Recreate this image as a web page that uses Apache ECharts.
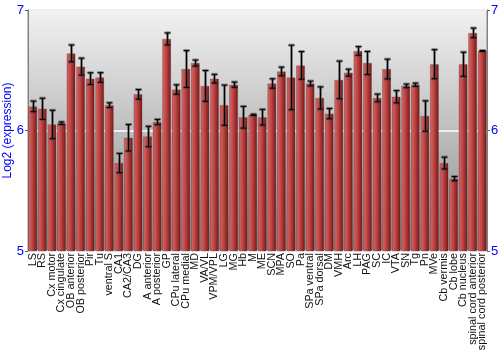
<!DOCTYPE html>
<html>
<head>
<meta charset="utf-8">
<script src="https://cdn.jsdelivr.net/npm/echarts@6/dist/echarts.min.js"></script>
<style>html,body{margin:0;padding:0;background:#fff}#c{width:500px;height:350px}</style>
</head>
<body>
<div id="c"></div>
<script>
const categories = ["LS","RS","Cx motor","Cx cingulate","OB anterior","OB posterior","Pir","Tu","ventral S","CA1","CA2/CA3","DG","A anterior","A posterior","GP","CPu lateral","CPu medial","MD","VA/VL","VPM/VPL","LG","MG","Hb","M","ME","SCN","MPA","SO","Pa","SPa ventral","SPa dorsal","DM","VMH","Arc","LH","PAG","SC","IC","VTA","SN","Tg","Pn","MVe","Cb vermis","Cb lobe","Cb nucleus","spinal cord anterior","spinal cord posterior"];
const values = [6.20,6.18,6.05,6.06,6.64,6.53,6.43,6.44,6.21,5.73,5.94,6.30,5.95,6.07,6.76,6.34,6.51,6.56,6.37,6.43,6.21,6.38,6.11,6.13,6.11,6.39,6.49,6.44,6.54,6.39,6.27,6.14,6.42,6.48,6.66,6.56,6.27,6.51,6.28,6.37,6.38,6.12,6.55,5.73,5.60,6.55,6.81,6.66];
const errors = [0.044,0.088,0.118,0.011,0.07,0.07,0.049,0.04,0.02,0.08,0.11,0.04,0.085,0.022,0.05,0.039,0.153,0.025,0.128,0.036,0.167,0.022,0.09,0.005,0.065,0.039,0.036,0.268,0.115,0.02,0.092,0.043,0.156,0.029,0.036,0.096,0.032,0.082,0.051,0.015,0.013,0.126,0.121,0.049,0.018,0.1,0.04,0.003];
const yTicks = [5,6,7];

const chart = echarts.init(document.getElementById('c'), null, {renderer:'canvas'});
const errData = values.map((v,i)=>[i, v-errors[i], v+errors[i]]);
const barColor = new echarts.graphic.LinearGradient(0,0,1,0,[
  {offset:0,color:'#b03a3a'},{offset:0.12,color:'#d06060'},{offset:0.45,color:'#bd4444'},{offset:1,color:'#741616'}]);
const yAxisCommon = {
  type:'value', min:yTicks[0], max:yTicks[yTicks.length-1], interval:1,
  axisLine:{show:true,lineStyle:{color:'#808080'}},
  axisTick:{show:true,length:3,lineStyle:{color:'#606060'}},
  axisLabel:{color:'#0000ff',fontSize:13,fontFamily:'Liberation Sans, Arial',margin:4},
  splitLine:{show:false}
};
chart.setOption({
  animation:false,
  grid:{left:28,right:13,top:10,bottom:99,containLabel:false,outerBoundsMode:'none',show:true,borderColor:'#888',borderWidth:1,
    backgroundColor:new echarts.graphic.LinearGradient(0,0,0,1,[{offset:0,color:'#f2f2f2'},{offset:1,color:'#8a8a8a'}])},
  xAxis:{type:'category',data:categories,
    axisLine:{show:false},axisTick:{show:false},
    axisLabel:{rotate:90,interval:0,fontSize:10.8,color:'#111',fontFamily:'Liberation Sans, Arial',margin:2}},
  yAxis:[
    Object.assign({},yAxisCommon,{position:'left',name:'Log2 (expression)',nameLocation:'middle',nameGap:14,nameMoveOverlap:false,
      nameTextStyle:{color:'#0000ff',fontSize:12,fontFamily:'Liberation Sans, Arial'},
      splitLine:{show:true,lineStyle:{color:'#ffffff',width:1.5}}}),
    Object.assign({},yAxisCommon,{position:'right'})
  ],
  series:[
    {type:'bar',data:values,barCategoryGap:'10%',itemStyle:{color:barColor,borderColor:'rgba(90,60,60,0.5)',borderWidth:0.5}},
    {type:'custom',data:errData,z:10,
      renderItem:function(params,api){
        const x=api.value(0);
        const lo=api.coord([x,api.value(1)]);
        const hi=api.coord([x,api.value(2)]);
        const cx=Math.round(lo[0])+0.5;
        const hw=3;
        const shadow={stroke:'rgba(60,60,60,0.55)',lineWidth:3};
        const dark={stroke:'#000',lineWidth:1};
        return {type:'group',children:[
          {type:'line',shape:{x1:cx,y1:hi[1],x2:cx,y2:lo[1]},style:shadow},
          {type:'line',shape:{x1:cx-hw,y1:hi[1],x2:cx+hw,y2:hi[1]},style:shadow},
          {type:'line',shape:{x1:cx-hw,y1:lo[1],x2:cx+hw,y2:lo[1]},style:shadow},
          {type:'line',shape:{x1:cx,y1:hi[1],x2:cx,y2:lo[1]},style:dark},
          {type:'line',shape:{x1:cx-hw,y1:hi[1],x2:cx+hw,y2:hi[1]},style:dark},
          {type:'line',shape:{x1:cx-hw,y1:lo[1],x2:cx+hw,y2:lo[1]},style:dark}
        ]};
      }}
  ]
});
</script>
</body>
</html>
